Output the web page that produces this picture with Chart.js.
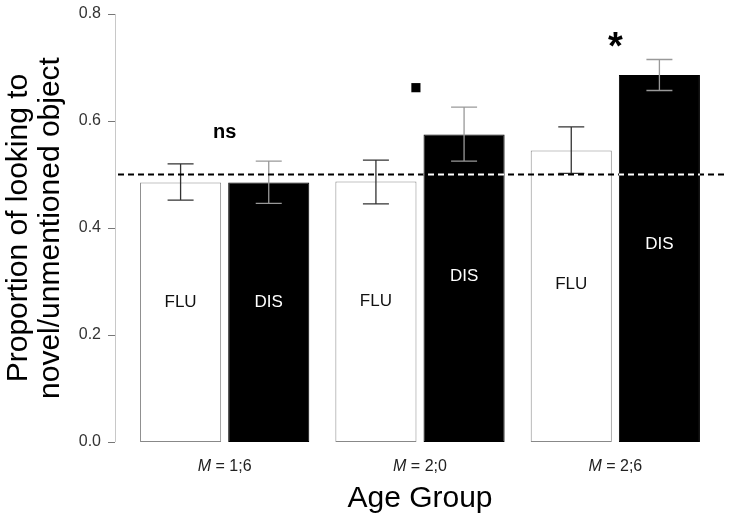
<!DOCTYPE html>
<html>
<head>
<meta charset="utf-8">
<script src="https://cdn.jsdelivr.net/npm/chart.js@4/dist/chart.umd.min.js"></script>
<style>
  html, body { margin: 0; padding: 0; background: #fff; }
  #wrap { width: 729px; height: 521px; position: relative; }
</style>
</head>
<body>
<div id="wrap"><canvas id="chart"></canvas></div>
<script>
// age groups (mean age, years;months)
const ageGroups = ['1;6', '2;0', '2;6'];
// FLU condition: mean and error bar ends
const fluMeans = [0.485, 0.487, 0.545];
const fluLower = [0.452, 0.445, 0.502];
const fluUpper = [0.520, 0.527, 0.589];
// DIS condition
const disMeans = [0.485, 0.575, 0.686];
const disLower = [0.446, 0.525, 0.657];
const disUpper = [0.525, 0.626, 0.715];
// chance level and significance marks per group
const chanceLevel = 0.5;
const sigMarks = ['ns', '\u25A0', '*'];
const yTicks = [0, 0.2, 0.4, 0.6, 0.8];

const FONT = '"Liberation Sans", Arial, Helvetica, sans-serif';

const overlay = {
  id: 'overlay',
  afterDatasetsDraw(chart) {
    const { ctx, chartArea, scales: { x, y } } = chart;
    const fluBars = chart.getDatasetMeta(0).data;
    const disBars = chart.getDatasetMeta(1).data;
    const yc = y.getPixelForValue(chanceLevel);
    const x0 = chartArea.left - 9, x1 = chart.width - 4;

    // error bars
    const drawErr = (bars, lo, hi, color) => {
      ctx.save();
      ctx.strokeStyle = color;
      ctx.lineWidth = 1.3;
      bars.forEach((b, i) => {
        const top = y.getPixelForValue(hi[i]);
        const bot = y.getPixelForValue(lo[i]);
        ctx.beginPath();
        ctx.moveTo(b.x, top); ctx.lineTo(b.x, bot);
        ctx.moveTo(b.x - 13, top); ctx.lineTo(b.x + 13, top);
        ctx.moveTo(b.x - 13, bot); ctx.lineTo(b.x + 13, bot);
        ctx.stroke();
      });
      ctx.restore();
    };
    drawErr(fluBars, fluLower, fluUpper, '#333');
    drawErr(disBars, disLower, disUpper, '#999');

    // chance line, black then white inside the black bars
    ctx.save();
    ctx.lineWidth = 2;
    ctx.setLineDash([6, 4]);
    ctx.strokeStyle = '#000';
    ctx.beginPath(); ctx.moveTo(x0, yc); ctx.lineTo(x1, yc); ctx.stroke();
    ctx.beginPath();
    disBars.forEach(b => ctx.rect(b.x - b.width / 2, b.y, b.width, b.base - b.y));
    ctx.clip();
    ctx.strokeStyle = '#fff';
    ctx.beginPath(); ctx.moveTo(x0, yc); ctx.lineTo(x1, yc); ctx.stroke();
    ctx.restore();

    // condition labels inside bars
    ctx.save();
    ctx.font = '17px ' + FONT;
    ctx.textAlign = 'center';
    ctx.textBaseline = 'middle';
    fluBars.forEach((b, i) => {
      ctx.fillStyle = '#111';
      ctx.fillText('FLU', b.x, y.getPixelForValue(fluMeans[i] * 0.54));
    });
    disBars.forEach((b, i) => {
      ctx.fillStyle = '#fff';
      ctx.fillText('DIS', b.x, y.getPixelForValue(disMeans[i] * 0.54));
    });

    // significance marks
    ctx.fillStyle = '#000';
    ageGroups.forEach((g, i) => {
      const cx = x.getPixelForValue(i);
      const m = sigMarks[i];
      if (m === 'ns') {
        ctx.font = 'bold 20px ' + FONT;
        ctx.fillText(m, cx, y.getPixelForValue(0.578));
      } else if (m === '*') {
        ctx.font = 'bold 38px ' + FONT;
        ctx.fillText(m, cx, y.getPixelForValue(0.735));
      } else {
        ctx.font = '12px "DejaVu Sans", sans-serif';
        ctx.fillText(m, cx - 4, y.getPixelForValue(0.662));
      }
    });
    ctx.restore();
  },
  afterDraw(chart) {
    const { ctx, chartArea, scales: { x, y } } = chart;
    const ax = chartArea.left - 12;
    ctx.save();
    // y axis line and tick marks
    ctx.strokeStyle = '#c8c8c8';
    ctx.lineWidth = 1;
    ctx.beginPath();
    ctx.moveTo(ax + 0.5, y.getPixelForValue(0.8));
    ctx.lineTo(ax + 0.5, y.getPixelForValue(0));
    ctx.stroke();
    ctx.strokeStyle = '#777';
    ctx.beginPath();
    yTicks.forEach(v => {
      const py = Math.round(y.getPixelForValue(v)) + 0.5;
      ctx.moveTo(ax - 7, py); ctx.lineTo(ax, py);
    });
    ctx.stroke();

    // x category labels with italic M
    ctx.fillStyle = '#222';
    ctx.textBaseline = 'middle';
    ctx.textAlign = 'left';
    ageGroups.forEach((g, i) => {
      const cx = x.getPixelForValue(i);
      const ty = y.bottom + 25;
      ctx.font = 'italic 16px ' + FONT;
      const wm = ctx.measureText('M').width;
      ctx.font = '16px ' + FONT;
      const rest = ' = ' + g;
      const wr = ctx.measureText(rest).width;
      const start = cx - (wm + wr) / 2;
      ctx.font = 'italic 16px ' + FONT;
      ctx.fillText('M', start, ty);
      ctx.font = '16px ' + FONT;
      ctx.fillText(rest, start + wm, ty);
    });
    ctx.restore();
  }
};

new Chart(document.getElementById('chart'), {
  type: 'bar',
  data: {
    labels: ageGroups.map(g => 'M = ' + g),
    datasets: [
      {
        label: 'FLU',
        data: fluMeans,
        backgroundColor: '#fff',
        borderColor: '#888',
        borderWidth: 1,
        borderSkipped: false
      },
      {
        label: 'DIS',
        data: disMeans,
        backgroundColor: '#000',
        borderColor: '#000',
        borderWidth: 1,
        borderSkipped: false
      }
    ]
  },
  options: {
    responsive: true,
    maintainAspectRatio: false,
    animation: false,
    layout: { padding: { top: 14, right: 16, bottom: 0, left: 0 } },
    categoryPercentage: 0.9026,
    barPercentage: 0.92,
    plugins: {
      legend: { display: false },
      tooltip: { enabled: false }
    },
    scales: {
      x: {
        grid: { display: false },
        border: { display: false },
        ticks: { display: false },
        title: {
          display: true,
          text: 'Age Group',
          color: '#000',
          font: { family: FONT, size: 30 },
          padding: { top: 0, bottom: 4 }
        },
        afterFit(scale) { scale.height = 79; }
      },
      y: {
        min: 0,
        max: 0.8,
        grid: { display: false },
        border: { display: false },
        ticks: {
          stepSize: 0.2,
          padding: 18,
          color: '#333',
          font: { family: FONT, size: 16 },
          callback: v => v.toFixed(1)
        },
        title: {
          display: true,
          text: ['Proportion of looking to', 'novel/unmentioned object'],
          color: '#000',
          font: { family: FONT, size: 30, lineHeight: 1.06 },
          padding: { top: 3, bottom: 0 }
        },
        afterFit(scale) {
          // fixed box; tick padding should not push the plot down
          scale.width = 127;
          scale.paddingTop = 0;
          scale.paddingBottom = 0;
        }
      }
    }
  },
  plugins: [overlay]
});
</script>
</body>
</html>
